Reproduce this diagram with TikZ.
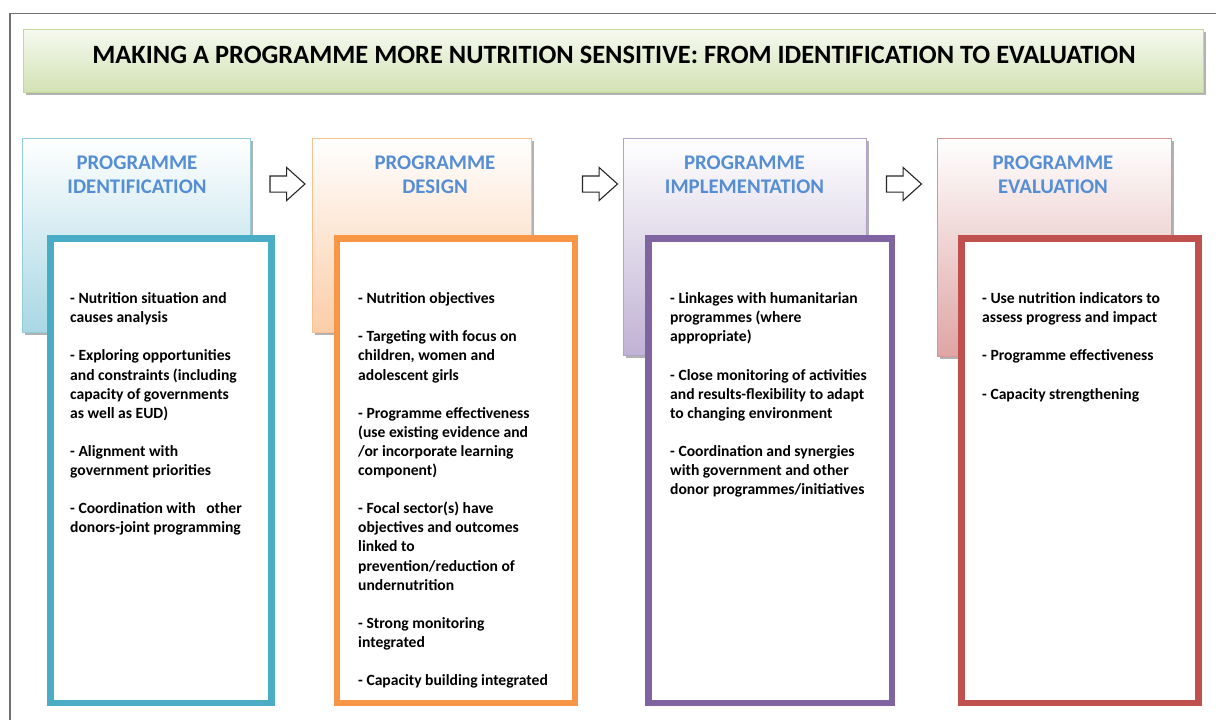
\documentclass[tikz,border=0pt]{standalone}
\usepackage{fontspec}
\setmainfont{Carlito}
\usepackage{tikz}
\usetikzlibrary{shapes}
\usetikzlibrary{shapes.arrows}
\usetikzlibrary{shadows}
\usetikzlibrary{positioning}

\definecolor{idcol}{HTML}{4BACC6}
\definecolor{idlite}{HTML}{A9D7E4}
\definecolor{idedge}{HTML}{93CDDD}
\definecolor{dscol}{HTML}{F79646}
\definecolor{dslite}{HTML}{FBCDA8}
\definecolor{dsedge}{HTML}{FAC090}
\definecolor{imcol}{HTML}{8064A2}
\definecolor{imlite}{HTML}{C0B2D4}
\definecolor{imedge}{HTML}{B3A2C7}
\definecolor{evcol}{HTML}{C0504D}
\definecolor{evlite}{HTML}{DEA5A4}
\definecolor{evedge}{HTML}{D99694}
\definecolor{ttlite}{HTML}{D2E2B4}
\definecolor{ttedge}{HTML}{C3D69B}
\definecolor{hdtext}{HTML}{558ED5}
\definecolor{framecol}{HTML}{707070}

\newcommand{\gap}{\\[19.1pt]}

\begin{document}
\begin{tikzpicture}[x=1pt,y=-1pt]
\tikzstyle{headbox}=[rectangle,inner sep=0pt,outer sep=0pt,anchor=north west,
line width=1pt,top color=white,
general shadow={fill=black!30,shadow xshift=3pt,shadow yshift=-3pt}]
\tikzstyle{bodybox}=[rectangle,inner sep=0pt,outer sep=0pt,anchor=north west,
line width=6.5pt,fill=white,minimum height=464.5pt]
\tikzstyle{headtext}=[anchor=north,inner sep=0pt,align=center,text=hdtext,
font=\bfseries\fontsize{20.8}{24}\selectfont]
\tikzstyle{bodytext}=[anchor=north west,inner sep=0pt,align=left,
font=\bfseries\fontsize{15.6}{19.1}\selectfont]
\tikzstyle{flowarrow}=[single arrow,draw=black!85,fill=white,line width=1.1pt,
inner xsep=0pt,inner ysep=7.5pt,minimum height=35pt,
single arrow head extend=8.5pt,single arrow tip angle=84]

\useasboundingbox[fill=white] (0,0) rectangle (1216,720);
\draw[framecol,line width=1.5pt] (10,13.5) rectangle (1230,740);

% title
\node[headbox,draw=ttedge,bottom color=ttlite,top color=ttlite!20,
minimum width=1180pt,minimum height=63pt] (title) at (23,29) {};
\node[anchor=base,inner sep=0pt,font=\bfseries\fontsize{26.4}{30}\selectfont]
(titletext) at (614,63.3)
{MAKING A PROGRAMME MORE NUTRITION SENSITIVE: FROM IDENTIFICATION TO EVALUATION};

% header boxes
\node[headbox,draw=idedge,bottom color=idlite,minimum width=228pt,minimum height=194pt] (idhead) at (22,138) {};
\node[headbox,draw=dsedge,bottom color=dslite,minimum width=219pt,minimum height=194pt] (dshead) at (312,138) {};
\node[headbox,draw=imedge,bottom color=imlite,minimum width=243pt,minimum height=217pt] (imhead) at (623,138) {};
\node[headbox,draw=evedge,bottom color=evlite,minimum width=234pt,minimum height=218pt] (evhead) at (937,138) {};

\node[headtext] (idlabel) at (137,152.2) {\strut PROGRAMME\\IDENTIFICATION};
\node[headtext] (dslabel) at (435,152.2) {\strut PROGRAMME\\DESIGN};
\node[headtext] (imlabel) at (744.5,152.2) {\strut PROGRAMME\\IMPLEMENTATION};
\node[headtext] (evlabel) at (1053,152.2) {\strut PROGRAMME\\EVALUATION};

% arrows between the steps
\node[flowarrow] (idtods) at (283,184) {};
\node[flowarrow] (dstoim) at (595.5,184) {};
\node[flowarrow] (imtoev) at (899.5,184) {};

% body boxes
\node[bodybox,draw=idcol,minimum width=221pt] (idbody) at (50.5,238.5) {};
\node[bodybox,draw=dscol,minimum width=238pt] (dsbody) at (337,238.5) {};
\node[bodybox,draw=imcol,minimum width=243.5pt] (imbody) at (648.5,238.5) {};
\node[bodybox,draw=evcol,minimum width=237pt] (evbody) at (961.5,238.5) {};

\node[bodytext] (idlist) at (70,290.1) {\strut - Nutrition situation and\\causes analysis\gap
- Exploring opportunities\\and constraints (including\\capacity of governments\\as well as EUD)\gap
- Alignment with\\government priorities\gap
- Coordination with \ \ other\\donors-joint programming};

\node[bodytext] (dslist) at (358,290.1) {\strut - Nutrition objectives\gap
- Targeting with focus on\\children, women and\\adolescent girls\gap
- Programme effectiveness\\(use existing evidence and\\/or incorporate learning\\component)\gap
- Focal sector(s) have\\objectives and outcomes\\linked to\\prevention/reduction of\\undernutrition\gap
- Strong monitoring\\integrated\gap
- Capacity building integrated};

\node[bodytext] (imlist) at (670,290.1) {\strut - Linkages with humanitarian\\programmes (where\\appropriate)\gap
- Close monitoring of activities\\and results-flexibility to adapt\\to changing environment\gap
- Coordination and synergies\\with government and other\\donor programmes/initiatives};

\node[bodytext] (evlist) at (982,290.1) {\strut - Use nutrition indicators to\\assess progress and impact\gap
- Programme effectiveness\gap
- Capacity strengthening};
\end{tikzpicture}
\end{document}
